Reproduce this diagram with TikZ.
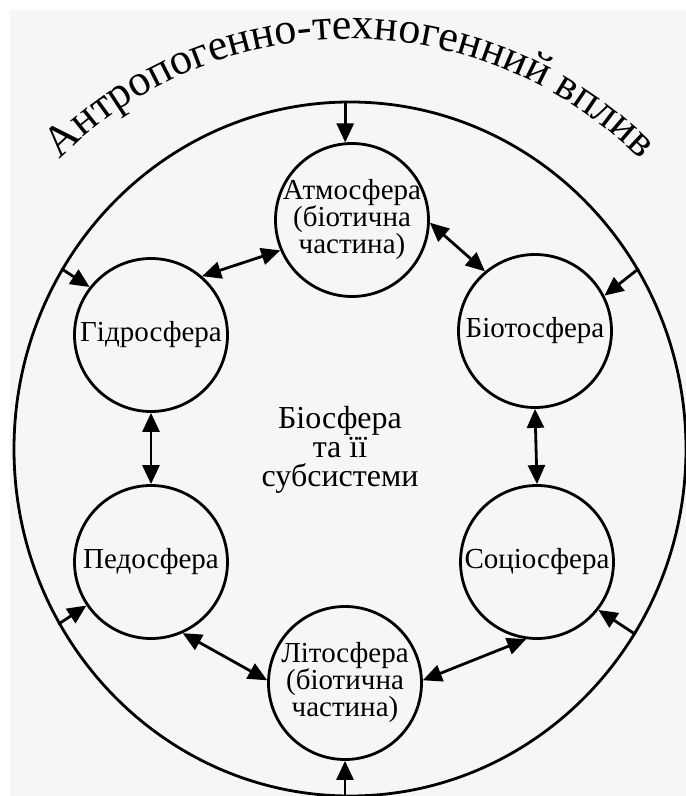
\documentclass[tikz,border=0pt]{standalone}
\usepackage{fontspec}
\setmainfont{Liberation Serif}
\usetikzlibrary{shapes.geometric,arrows.meta,decorations.text}
\definecolor{paper}{RGB}{246,246,246}

\begin{document}
\begin{tikzpicture}[x=1pt,y=1pt,
        main node/.style={circle, draw, line width=2.8pt, minimum size=153pt,
        inner sep=-5pt, align=center, font=\fontsize{29}{27}\selectfont},
        link/.style={{Triangle[length=19pt,width=17pt]}-{Triangle[length=19pt,width=17pt]}, line width=2.8pt},
        impact/.style={-{Triangle[length=19pt,width=17pt]}, line width=2.8pt}
        ]
        \useasboundingbox (0,0) rectangle (686,796);
        \fill[white] (0,0) rectangle (686,796);
        \fill[paper] (10,0) rectangle (686,786);

        \node [ellipse, draw, line width=2.8pt, minimum width=672pt,
        minimum height=694pt, inner sep=0pt] (outer) at (350,347) {};

        \path[decorate, decoration={text along path, text align=center,
            text={|\fontsize{44}{44}\selectfont|Антропогенно-техногенний вплив}}]
            (350,347) ++(150:410) arc (150:30:410);

        \node [main node] (atm) at (352,576) {Атмосфера\\(біотична\\частина)};
        \node [main node] (hydro) at (151,461) {Гідросфера};
        \node [main node] (bio) at (535,465) {Біотосфера};
        \node [main node] (pedo) at (151,234) {Педосфера};
        \node [main node] (socio) at (537,234) {Соціосфера};
        \node [main node] (litho) at (345,113) {Літосфера\\(біотична\\частина)};

        \node [align=center, font=\fontsize{32}{29}\selectfont] (core) at (340,346)
        {Біосфера\\та її\\субсистеми};

        \path[link]
        (hydro.49) edge (atm.203)
        (atm.358) edge (bio.130)
        (hydro.south) edge (pedo.north)
        (bio.south) edge (socio.north)
        (pedo.294) edge (litho.178)
        (litho.2) edge (socio.262)
        ;

        \path[impact]
        (outer.north -| atm.95) edge (atm.95)
        (outer.148) edge (hydro.142)
        (outer.32) edge (bio.27)
        (outer.211) edge (pedo.214)
        (outer.327) edge (socio.322)
        (outer.south -| litho.south) edge (litho.south)
        ;
\end{tikzpicture}
\end{document}
